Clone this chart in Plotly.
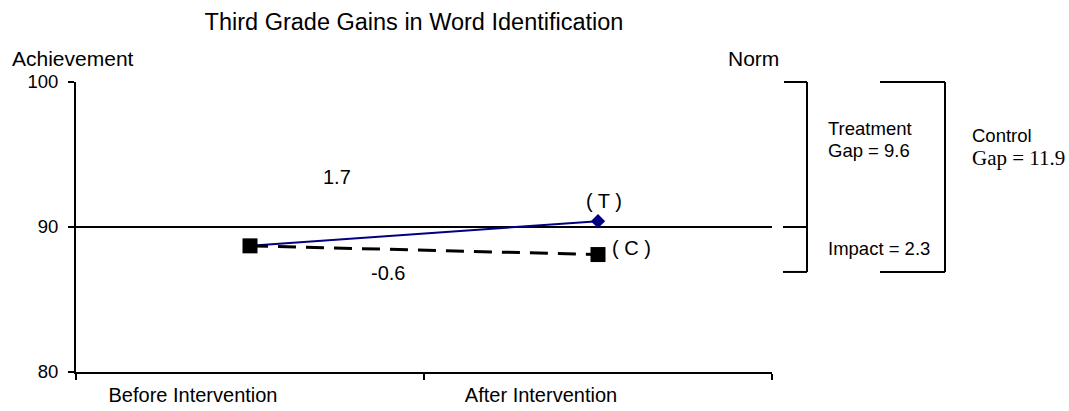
import plotly.graph_objects as go

# ---- data ----
categories = ["Before Intervention", "After Intervention"]
treatment = [88.7, 90.4]
control = [88.7, 88.1]
y_ticks = [80, 90, 100]
norm = 100
treatment_gain = "1.7"
control_gain = "-0.6"
treatment_gap = "Gap = 9.6"
control_gap = "Gap = 11.9"
impact = "Impact = 2.3"

# ---- layout geometry (pixels) ----
FW, FH = 1069, 411
L, R, T, B = 76, 772, 82, 372
PW, PH = R - L, B - T
Y0, Y1 = 80, 100
bracket_low = 86.9

def px(x):
    return (x - L) / PW

def py(y):
    return (B - y) / PH

def pv(v):
    return (v - Y0) / (Y1 - Y0)

SANS = "Liberation Sans, Arial, sans-serif"
SERIF = "Liberation Serif, Times New Roman, serif"

fig = go.Figure()
fig.add_trace(go.Scatter(
    x=categories, y=treatment, mode="lines+markers", name="Treatment",
    line=dict(color="#000080", width=2),
    marker=dict(symbol="diamond", size=11, color="#000080"),
    cliponaxis=False, showlegend=False,
))
fig.add_trace(go.Scatter(
    x=categories, y=control, mode="lines+markers", name="Control",
    line=dict(color="black", width=3, dash="18px,10px"),
    marker=dict(symbol="square", size=15, color="black"),
    cliponaxis=False, showlegend=False,
))

shapes = []
def seg(x0, y0, x1, y1):
    shapes.append(dict(type="line", xref="paper", yref="paper",
                       x0=x0, y0=y0, x1=x1, y1=y1,
                       line=dict(color="black", width=2)))

# Treatment bracket
seg(px(784), pv(norm), px(807), pv(norm))
seg(px(807), pv(norm), px(807), pv(bracket_low))
seg(px(783), pv(90), px(807), pv(90))
seg(px(783), pv(bracket_low), px(807), pv(bracket_low))
# Control bracket
seg(px(880), pv(norm), px(945), pv(norm))
seg(px(945), pv(norm), px(945), pv(bracket_low))
seg(px(880), pv(bracket_low), px(945), pv(bracket_low))

annotations = []
def txt(text, x, y, size, xanchor="left", family=SANS):
    annotations.append(dict(text=text, x=px(x), y=py(y), xref="paper", yref="paper",
                            xanchor=xanchor, yanchor="middle", showarrow=False,
                            font=dict(family=family, size=size, color="black")))

txt("Achievement", 10, 58, 21)
txt("Norm", 781, 58, 21, xanchor="right")
txt("Treatment", 826, 128, 18.5)
txt(treatment_gap, 826, 150, 18.5)
txt(impact, 826, 248, 18.5)
txt("Control", 970, 135, 18.5)
txt(control_gap, 970, 158, 21, family=SERIF)
txt(treatment_gain, 337, 177, 20, xanchor="center")
txt(control_gain, 388, 273, 20, xanchor="center")

annotations.append(dict(text="( T )", x=categories[1], y=treatment[1], xref="x", yref="y",
                        xanchor="center", yanchor="middle", yshift=20, xshift=6, showarrow=False,
                        font=dict(family=SANS, size=20, color="black")))
annotations.append(dict(text="( C )", x=categories[1], y=control[1], xref="x", yref="y",
                        xanchor="left", yanchor="middle", xshift=12, yshift=7, showarrow=False,
                        font=dict(family=SANS, size=20, color="black")))

fig.update_layout(
    width=FW, height=FH, autosize=False,
    margin=dict(l=L, r=FW - R, t=T, b=FH - B, pad=0, autoexpand=False),
    paper_bgcolor="white", plot_bgcolor="white",
    font=dict(family=SANS, size=18, color="black"),
    title=dict(text="Third Grade Gains in Word Identification", x=414 / FW, xanchor="center",
               xref="container", y=1 - 22 / FH, yanchor="middle", yref="container",
               font=dict(family=SANS, size=23.5, color="black")),
    shapes=shapes, annotations=annotations,
    xaxis=dict(type="category", categoryorder="array", categoryarray=categories,
               range=[-0.5, 1.5], tickson="boundaries", ticks="outside", ticklen=6,
               tickwidth=2, tickcolor="black", showline=True, linewidth=2, linecolor="black",
               showgrid=False, zeroline=False, ticklabelshift=-57, ticklabelstandoff=4,
               automargin=False,
               tickfont=dict(family=SANS, size=20, color="black")),
    yaxis=dict(range=[Y0, Y1], tickvals=y_ticks, ticks="outside", ticklen=6, tickwidth=2,
               tickcolor="black", showline=True, linewidth=2, linecolor="black",
               showgrid=True, gridcolor="black", gridwidth=2, zeroline=False,
               ticklabelstandoff=6, automargin=False,
               tickfont=dict(family=SANS, size=18.5, color="black")),
)

fig.write_html("out.html", config={"displayModeBar": False},
               post_script="document.body.style.margin='0';")
